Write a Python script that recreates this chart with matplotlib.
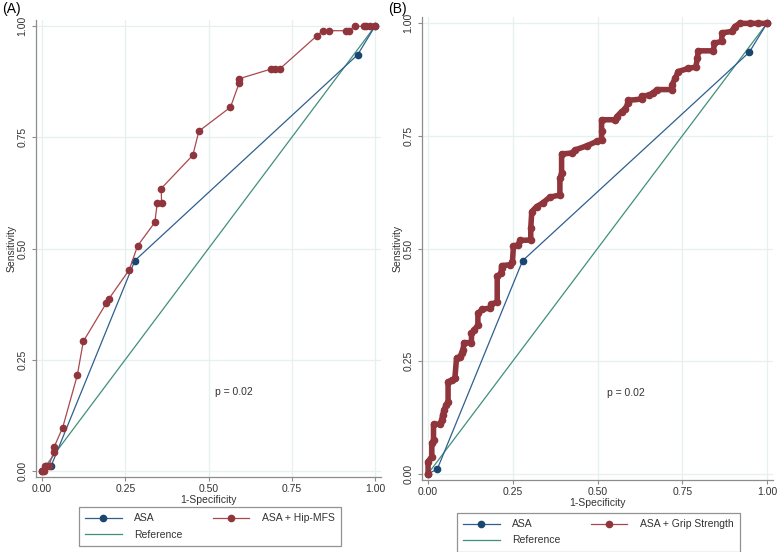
import numpy as np
import matplotlib.pyplot as plt
from matplotlib.lines import Line2D

plt.rcParams['font.family'] = ['Liberation Sans', 'DejaVu Sans']

# ROC points
asa_x = [0.0, 0.027, 0.279, 0.948, 1.0]
asa_y = [0.0, 0.010, 0.473, 0.936, 1.0]

hip_x = [0.0, 0.005, 0.008, 0.012, 0.020, 0.036, 0.036, 0.062, 0.106, 0.124, 0.193, 0.201,
         0.262, 0.287, 0.339, 0.346, 0.359, 0.358, 0.453, 0.471, 0.566, 0.592, 0.592,
         0.689, 0.699, 0.714, 0.826, 0.843, 0.861, 0.913, 0.921, 0.939, 0.966, 0.973,
         0.986, 1.0]
hip_y = [0.0, 0.0, 0.011, 0.011, 0.011, 0.043, 0.053, 0.097, 0.215, 0.291, 0.377, 0.387,
         0.452, 0.506, 0.559, 0.603, 0.603, 0.635, 0.710, 0.764, 0.818, 0.872, 0.882,
         0.904, 0.904, 0.904, 0.979, 0.990, 0.990, 0.990, 0.990, 1.0, 1.0, 1.0,
         1.0, 1.0]

grip_x = [0.000, 0.000, 0.011, 0.011, 0.016, 0.016, 0.035, 0.040, 0.043, 0.047, 0.054, 0.059,
          0.059, 0.070, 0.079, 0.084, 0.094, 0.099, 0.103, 0.106, 0.128, 0.128, 0.136, 0.147,
          0.147, 0.160, 0.183, 0.187, 0.204, 0.204, 0.215, 0.217, 0.217, 0.242, 0.249, 0.252,
          0.266, 0.271, 0.303, 0.303, 0.306, 0.320, 0.338, 0.359, 0.389, 0.389, 0.394, 0.394,
          0.424, 0.434, 0.468, 0.498, 0.512, 0.512, 0.512, 0.552, 0.557, 0.571, 0.581, 0.591,
          0.591, 0.630, 0.630, 0.651, 0.663, 0.675, 0.720, 0.720, 0.730, 0.738, 0.768, 0.790,
          0.795, 0.797, 0.842, 0.845, 0.866, 0.868, 0.896, 0.905, 0.920, 0.950, 0.975, 1.000]
grip_y = [0.000, 0.027, 0.038, 0.068, 0.075, 0.110, 0.110, 0.119, 0.130, 0.142, 0.153, 0.160,
          0.204, 0.208, 0.212, 0.257, 0.260, 0.267, 0.275, 0.291, 0.291, 0.312, 0.319, 0.330,
          0.356, 0.365, 0.368, 0.376, 0.382, 0.438, 0.445, 0.456, 0.462, 0.464, 0.471, 0.506,
          0.508, 0.518, 0.519, 0.545, 0.582, 0.593, 0.601, 0.614, 0.619, 0.656, 0.667, 0.710,
          0.712, 0.719, 0.728, 0.738, 0.742, 0.760, 0.786, 0.786, 0.793, 0.804, 0.810, 0.823,
          0.829, 0.832, 0.839, 0.840, 0.845, 0.853, 0.853, 0.864, 0.879, 0.893, 0.900, 0.903,
          0.923, 0.939, 0.939, 0.956, 0.960, 0.979, 0.982, 0.993, 1.000, 1.000, 1.000, 1.000]

ticks = [0, 0.25, 0.5, 0.75, 1.0]
tick_labels = ['0.00', '0.25', '0.50', '0.75', '1.00']

navy = '#1a476f'
maroon = '#90353b'
ref_col = '#3f8f7c'
asa_line = '#2f5f8f'
hip_line = '#a8484e'
grid_col = '#e6f0f1'
axis_col = '#8c8c8c'
txt_col = '#333333'

fig = plt.figure(figsize=(7.78, 5.52), dpi=100)
axA = fig.add_axes([0.0463, 0.1359, 0.4434, 0.8286])
axB = fig.add_axes([0.5424, 0.1304, 0.4512, 0.8395])


def style(ax):
    ax.set_xlim(-0.018, 1.018)
    ax.set_ylim(-0.014, 1.015)
    ax.set_xticks(ticks)
    ax.set_xticklabels(tick_labels)
    ax.set_yticks(ticks)
    ax.set_yticklabels(tick_labels, rotation=90, va='center')
    ax.grid(True, color=grid_col, linewidth=0.9)
    ax.set_axisbelow(True)
    for s in ['top', 'right']:
        ax.spines[s].set_visible(False)
    for s in ['left', 'bottom']:
        ax.spines[s].set_color(axis_col)
        ax.spines[s].set_linewidth(0.9)
    ax.tick_params(axis='both', direction='out', length=3, width=0.8, color=axis_col,
                   labelsize=7.5, labelcolor=txt_col)
    ax.tick_params(axis='x', pad=2)
    ax.tick_params(axis='y', pad=3)
    ax.set_xlabel('1-Specificity', fontsize=7.5, labelpad=1, color=txt_col)
    ax.set_ylabel('Sensitivity', fontsize=7.5, labelpad=0.5, color=txt_col)


# Panel A
style(axA)
axA.plot([0, 1], [0, 1], color=ref_col, lw=0.9)
axA.plot(asa_x, asa_y, color=asa_line, lw=0.9, marker='o', ms=4.5,
         mfc=navy, mec=navy)
axA.plot(hip_x, hip_y, color=hip_line, lw=0.9, marker='o', ms=4.5,
         mfc=maroon, mec=maroon)
axA.text(0.52, 0.177, 'p = 0.02', fontsize=7.5, va='center', ha='left', color=txt_col)

# Panel B
style(axB)
axB.plot([0, 1], [0, 1], color=ref_col, lw=0.9)
axB.plot(asa_x, asa_y, color=asa_line, lw=0.9, marker='o', ms=4.5,
         mfc=navy, mec=navy)
axB.plot(grip_x, grip_y, color=maroon, lw=4.0, solid_joinstyle='round',
         solid_capstyle='round')
axB.plot(grip_x, grip_y, color=maroon, lw=0.9, marker='o', ms=4.5,
         mfc=maroon, mec=maroon)
axB.text(0.528, 0.18, 'p = 0.02', fontsize=7.5, va='center', ha='left', color=txt_col)

fig.text(0.003, 0.983, '(A)', fontsize=10, va='center', ha='left')
fig.text(0.499, 0.983, '(B)', fontsize=10, va='center', ha='left')

# Legends
def make_legend(ax, label2, anchor):
    h_asa = Line2D([], [], color=asa_line, lw=0.9, marker='o', ms=4.5, mfc=navy, mec=navy)
    h_ref = Line2D([], [], color=ref_col, lw=0.9)
    h_two = Line2D([], [], color=hip_line, lw=0.9, marker='o', ms=4.5, mfc=maroon, mec=maroon)
    leg = ax.legend([h_asa, h_ref, h_two], ['ASA', 'Reference', label2], ncol=2,
                    loc='upper left', bbox_to_anchor=anchor, bbox_transform=fig.transFigure,
                    fontsize=7.5, frameon=True, fancybox=False, handlelength=3.5,
                    handletextpad=1.2, columnspacing=2.9, labelspacing=0.6,
                    borderpad=0.6, borderaxespad=0)
    leg.get_frame().set_edgecolor('#777777')
    leg.get_frame().set_linewidth(0.9)
    for t in leg.get_texts():
        t.set_color(txt_col)
    return leg


make_legend(axA, 'ASA + Hip-MFS', (0.1015, 0.0815))
make_legend(axB, 'ASA + Grip Strength', (0.5874, 0.0707))

fig.savefig('out.png', dpi=100)
